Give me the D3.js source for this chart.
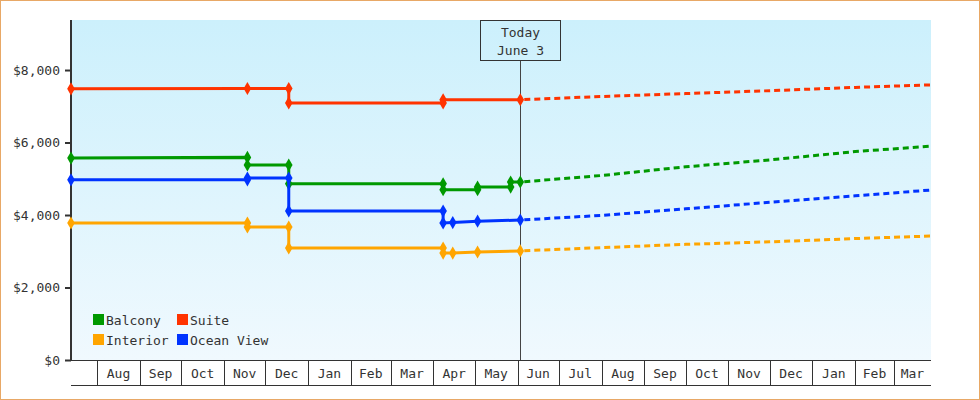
<!DOCTYPE html>
<html><head><meta charset="utf-8">
<script src="https://cdn.jsdelivr.net/npm/d3@7"></script>
<style>body{margin:0;background:#fff}svg{display:block}text{font-family:"DejaVu Sans Mono",monospace;font-size:13px;fill:#333}</style>
</head><body><svg id="c" width="980" height="400"></svg>
<script>
const seriesNames = ["Balcony","Suite","Interior","Ocean View"];
const colors = ["#009900","#ff3300","#ffa500","#0033ff"];
// historical price changes: [date, price]
const balcony = [["2023-07-13",5570],["2023-11-18",5590],["2023-11-18",5380],["2023-12-18",5380],["2023-12-18",4860],["2024-04-08",4860],["2024-04-08",4700],["2024-05-03",4700],["2024-05-03",4770],["2024-05-27",4770],["2024-05-27",4910],["2024-06-03",4910]];
const suite = [["2023-07-13",7480],["2023-11-18",7490],["2023-12-18",7490],["2023-12-18",7090],["2024-04-08",7090],["2024-04-08",7180],["2024-06-03",7180]];
const interior = [["2023-07-13",3780],["2023-11-18",3780],["2023-11-18",3670],["2023-12-18",3670],["2023-12-18",3090],["2024-04-08",3090],["2024-04-08",2950],["2024-04-15",2950],["2024-05-03",2980],["2024-06-03",3010]];
const oceanView = [["2023-07-13",4970],["2023-11-18",4970],["2023-11-18",5020],["2023-12-18",5020],["2023-12-18",4110],["2024-04-08",4110],["2024-04-08",3780],["2024-04-15",3790],["2024-05-03",3830],["2024-06-03",3860]];
// forecasts
const forecastDates = ["2024-06-03","2024-08-01","2024-10-01","2024-12-01","2025-02-01","2025-03-28"];
const balconyF = [4910,5090,5330,5520,5750,5900];
const suiteF = [7180,7270,7350,7430,7520,7590];
const interiorF = [3010,3100,3190,3260,3350,3420];
const oceanViewF = [3860,3990,4170,4350,4530,4690];
const yTicks = [0,2000,4000,6000,8000];
const todayLabel = ["Today","June 3"];

const P = d3.timeParse("%Y-%m-%d");
const svg = d3.select("#c");
svg.append("rect").attr("x",0.5).attr("y",0.5).attr("width",979).attr("height",399).attr("fill","#fff").attr("stroke","#e8a866");
const L=71,R=931,T=20,B=360;
const x = d3.scaleTime().domain([P("2023-07-13"),P("2025-03-28")]).range([L,R]);
const y = d3.scaleLinear().domain([0,9380]).range([B,T]);
const defs=svg.append("defs");
const g=defs.append("linearGradient").attr("id","bg").attr("x1",0).attr("x2",0).attr("y1",0).attr("y2",1);
g.append("stop").attr("offset",0).attr("stop-color","#ccf0fc");
g.append("stop").attr("offset",1).attr("stop-color","#f0f9fe");
svg.append("rect").attr("x",L).attr("y",T).attr("width",R-L).attr("height",B-T).attr("fill","url(#bg)");

// y axis
const ya=svg.append("g").attr("transform",`translate(${L},0)`).call(d3.axisLeft(y).tickValues(yTicks).tickSize(6).tickFormat(d=>"$"+d3.format(",")(d)));
ya.select(".domain").remove();
ya.selectAll("line").attr("stroke","#333").attr("stroke-width",2);
ya.selectAll("text").attr("font-family","DejaVu Sans Mono").attr("font-size",13).attr("fill","#333").attr("dx",-2);
svg.append("line").attr("x1",L).attr("x2",L).attr("y1",T).attr("y2",B+1).attr("stroke","#333").attr("stroke-width",2);
svg.append("line").attr("x1",L).attr("x2",R).attr("y1",B+0.5).attr("y2",B+0.5).attr("stroke","#333");

// month axis cells
const months = d3.timeMonth.range(P("2023-08-01"),P("2025-04-01"));
svg.append("line").attr("x1",L).attr("x2",R).attr("y1",385.5).attr("y2",385.5).attr("stroke","#333");
months.forEach((m,i)=>{
  const x0=Math.round(x(m))+0.5;
  svg.append("line").attr("x1",x0).attr("x2",x0).attr("y1",B).attr("y2",385).attr("stroke","#333");
  const next = i<months.length-1? x(months[i+1]) : R;
  svg.append("text").attr("x",(x(m)+next)/2).attr("y",378).attr("text-anchor","middle").text(d3.timeFormat("%b")(m));
});

// today line
const tx=Math.round(x(P("2024-06-03")))+0.5;
svg.append("line").attr("x1",tx).attr("x2",tx).attr("y1",60).attr("y2",B).attr("stroke","#444");
svg.append("rect").attr("x",tx-40).attr("y",20.5).attr("width",80).attr("height",40).attr("fill","none").attr("stroke","#333");
svg.append("text").attr("x",tx).attr("y",37).attr("text-anchor","middle").text(todayLabel[0]);
svg.append("text").attr("x",tx).attr("y",55).attr("text-anchor","middle").text(todayLabel[1]);

const hist=[balcony,suite,interior,oceanView], fc=[balconyF,suiteF,interiorF,oceanViewF];
const line=d3.line().x(d=>x(P(d[0]))).y(d=>y(d[1]));
const diamond=d3.symbol().type(d3.symbolDiamond).size(50);
[1,0,3,2].forEach(i=>{
  const fd=forecastDates.map((d,j)=>[d,fc[i][j]]);
  svg.append("path").attr("d",line(fd)).attr("fill","none").attr("stroke",colors[i]).attr("stroke-width",3).attr("stroke-dasharray","6,4").attr("stroke-dashoffset",-4);
  svg.append("path").attr("d",line(hist[i])).attr("fill","none").attr("stroke",colors[i]).attr("stroke-width",3);
  svg.selectAll(null).data(hist[i]).enter().append("path").attr("d",diamond).attr("fill",colors[i])
    .attr("transform",d=>`translate(${x(P(d[0]))},${y(d[1])})`);
});

// legend
const leg=[[0,97,320],[1,181,320],[2,97,340],[3,181,340]];
leg.forEach(([i,lx,ly])=>{
  svg.append("rect").attr("x",lx-4).attr("y",ly-6).attr("width",11).attr("height",11).attr("fill",colors[i]);
  svg.append("text").attr("x",lx+9).attr("y",ly+5).text(seriesNames[i]);
});
</script></body></html>
